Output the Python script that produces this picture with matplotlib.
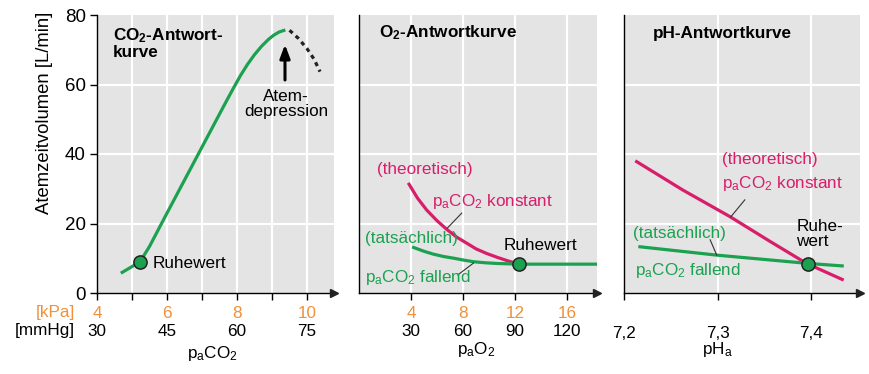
import matplotlib
matplotlib.use("Agg")
import matplotlib.pyplot as plt

plt.rcParams['font.family'] = ['Liberation Sans', 'DejaVu Sans']
plt.rcParams['mathtext.fontset'] = 'custom'
plt.rcParams['mathtext.rm'] = 'Liberation Sans'
plt.rcParams['mathtext.it'] = 'Liberation Sans:italic'
plt.rcParams['mathtext.bf'] = 'Liberation Sans:bold'

# colours
green = '#1ba14f'
magenta = '#d81e6b'
orange = '#f0913a'
grey_bg = '#e4e4e4'

# --- data ---
# CO2 response (x in kPa, y in L/min)
co2_x = [4.68, 4.95, 5.23, 5.5, 6.0, 6.5, 7.0, 7.5, 7.7, 7.9, 8.1, 8.3, 8.5, 8.7, 8.9, 9.05, 9.2, 9.38]
co2_y = [5.7, 7.3, 9.0, 13.4, 23.0, 32.5, 42.0, 51.5, 55.3, 59.0, 62.6, 65.8, 68.6, 71.0, 73.0, 74.2, 75.1, 75.7]
co2_dep_x = [9.5, 9.75, 10.0, 10.2, 10.37]
co2_dep_y = [75.6, 73.3, 70.3, 67.3, 63.7]
co2_rest = (5.23, 9.0)
co2_kpa_ticks = [4, 6, 8, 10]
co2_mmhg_ticks = [30, 45, 60, 75]

# O2 response
o2_theo_x = [3.85, 4.5, 5.2, 6.0, 6.75, 7.5, 8.3, 9.0, 9.8, 10.6, 11.4, 12.3]
o2_theo_y = [31.3, 27.3, 23.9, 20.8, 18.3, 16.1, 14.3, 12.7, 11.4, 10.3, 9.3, 8.3]
o2_act_x = [4.2, 5.0, 5.7, 6.5, 7.3, 8.0, 8.8, 9.7, 10.6, 12.3, 18.3]
o2_act_y = [13.1, 12.0, 11.2, 10.5, 10.0, 9.5, 9.0, 8.7, 8.5, 8.3, 8.3]
o2_rest = (12.3, 8.3)
o2_kpa_ticks = [4, 8, 12, 16]
o2_mmhg_ticks = [30, 60, 90, 120]

# pH response
ph_theo_x = [7.2135, 7.263, 7.313, 7.355, 7.395, 7.433]
ph_theo_y = [37.8, 29.6, 22.0, 15.0, 8.5, 3.9]
ph_act_x = [7.217, 7.299, 7.397, 7.433]
ph_act_y = [13.3, 10.9, 8.5, 7.8]
ph_rest = (7.397, 8.4)
ph_ticks = [7.2, 7.3, 7.4]
ph_labels = ['7,2', '7,3', '7,4']

fig = plt.figure(figsize=(8.7, 3.74), dpi=100)
H = 278 / 374
B = 1 - 293 / 374
ax1 = fig.add_axes([97 / 870, B, 237 / 870, H])
ax2 = fig.add_axes([359 / 870, B, 238 / 870, H])
ax3 = fig.add_axes([624 / 870, B, 236 / 870, H])

fs = 12.3
fsb = 12.3


def base(ax, xlim, vgrid, xticks):
    ax.set_facecolor(grey_bg)
    ax.set_xlim(*xlim)
    ax.set_ylim(0, 80)
    for s in ['top', 'right']:
        ax.spines[s].set_visible(False)
    for s in ['left', 'bottom']:
        ax.spines[s].set_linewidth(1.0)
    for v in vgrid:
        ax.axvline(v, color='white', lw=1.6, zorder=0.5)
    for h in [20, 40, 60]:
        ax.axhline(h, color='white', lw=1.6, zorder=0.5)
    ax.set_xticks(xticks)
    ax.set_xticklabels([])
    ax.tick_params(axis='x', direction='out', length=5, width=1)
    ax.plot([1.0], [0], marker='>', color='#222222', markersize=6,
            transform=ax.transAxes, clip_on=False, zorder=5)


base(ax1, (4, 10.77), [5, 6, 7, 8, 9, 10], [4, 5, 6, 7, 8, 9, 10])
base(ax2, (0, 18.3), [4, 8, 12, 16], o2_kpa_ticks)
base(ax3, (7.2, 7.452), [7.3, 7.4], ph_ticks)

ax1.set_yticks([0, 20, 40, 60, 80])
ax1.tick_params(axis='y', direction='out', length=5, width=1, labelsize=13.5, pad=3)
for ax in (ax2, ax3):
    ax.set_yticks([])

# two-row tick labels
xt1 = ax1.get_xaxis_transform()
for k, m in zip(co2_kpa_ticks, co2_mmhg_ticks):
    ax1.text(k, -0.072, str(k), color=orange, fontsize=fs, ha='center', va='center', transform=xt1)
    ax1.text(k, -0.137, str(m), color='black', fontsize=fs, ha='center', va='center', transform=xt1)
ax1.text(7.3, -0.216, 'p$_\\mathrm{a}$CO$_2$', fontsize=fs, ha='center', va='center', transform=xt1)
fig.text(75 / 870, 1 - 313 / 374, '[kPa]', color=orange, fontsize=fs, ha='right', va='center')
fig.text(75 / 870, 1 - 331 / 374, '[mmHg]', color='black', fontsize=fs, ha='right', va='center')

xt2 = ax2.get_xaxis_transform()
for k, m in zip(o2_kpa_ticks, o2_mmhg_ticks):
    ax2.text(k, -0.072, str(k), color=orange, fontsize=fs, ha='center', va='center', transform=xt2)
    ax2.text(k, -0.137, str(m), color='black', fontsize=fs, ha='center', va='center', transform=xt2)
ax2.text(9.0, -0.203, 'p$_\\mathrm{a}$O$_2$', fontsize=fs, ha='center', va='center', transform=xt2)

xt3 = ax3.get_xaxis_transform()
for t, l in zip(ph_ticks, ph_labels):
    ax3.text(t, -0.144, l, fontsize=fs, ha='center', va='center', transform=xt3)
ax3.text(7.3, -0.205, 'pH$_\\mathrm{a}$', fontsize=fs, ha='center', va='center', transform=xt3)

fig.text(45 / 870, 1 - 113 / 374, 'Atemzeitvolumen [L/min]', rotation=90,
         fontsize=13.3, ha='center', va='center')

lw = 2.3
ms = 9.5

# panel 1
ax1.plot(co2_x, co2_y, color=green, lw=lw, solid_capstyle='butt', solid_joinstyle='round', zorder=3)
ax1.plot(co2_dep_x, co2_dep_y, color='#222222', lw=lw, ls=(0, (1.3, 1.3)), zorder=3)
ax1.plot(*co2_rest, 'o', color=green, mec='#222222', mew=1.1, ms=ms, zorder=4)
ax1.text(5.6, 8.6, 'Ruhewert', fontsize=fs, va='center', ha='left')
ax1.text(4.46, 72.0, 'CO$_\\mathbf{2}$-Antwort-\nkurve', fontsize=fsb, fontweight='bold',
         va='center', ha='left', linespacing=1.0)
ax1.annotate('', xy=(9.37, 72.3), xytext=(9.37, 60.5),
             arrowprops=dict(arrowstyle='-|>,head_length=0.8,head_width=0.3', color='black', lw=2.2))
ax1.text(9.4, 54.5, 'Atem-\ndepression', fontsize=fs, ha='center', va='center', linespacing=1.0)

# panel 2
ax2.plot(o2_theo_x, o2_theo_y, color=magenta, lw=lw, solid_joinstyle='round', zorder=3)
ax2.plot(o2_act_x, o2_act_y, color=green, lw=lw, solid_joinstyle='round', zorder=3)
ax2.plot(*o2_rest, 'o', color=green, mec='#222222', mew=1.1, ms=ms, zorder=4)
ax2.plot([6.8, 7.9], [18.7, 23.0], color='#333333', lw=0.8, zorder=3)
ax2.plot([7.6, 8.8], [5.2, 8.6], color='#333333', lw=0.8, zorder=3)
ax2.text(1.4, 35.4, '(theoretisch)', color=magenta, fontsize=fs, va='center', ha='left')
ax2.text(5.6, 26.2, 'p$_\\mathrm{a}$CO$_2$ konstant', color=magenta, fontsize=fs, va='center', ha='left')
ax2.text(0.45, 15.8, '(tatsächlich)', color=green, fontsize=fs, va='center', ha='left')
ax2.text(0.45, 4.6, 'p$_\\mathrm{a}$CO$_2$ fallend', color=green, fontsize=fs, va='center', ha='left')
ax2.text(11.1, 13.8, 'Ruhewert', fontsize=fs, va='center', ha='left')
ax2.text(1.5, 74.8, 'O$_\\mathbf{2}$-Antwortkurve', fontsize=fsb, fontweight='bold', va='center', ha='left')

# panel 3
ax3.plot(ph_theo_x, ph_theo_y, color=magenta, lw=lw, solid_joinstyle='round', zorder=3)
ax3.plot(ph_act_x, ph_act_y, color=green, lw=lw, solid_joinstyle='round', zorder=3)
ax3.plot(*ph_rest, 'o', color=green, mec='#222222', mew=1.1, ms=ms, zorder=4)
ax3.plot([7.314, 7.329], [21.9, 26.8], color='#333333', lw=0.8, zorder=3)
ax3.plot([7.292, 7.299], [15.3, 10.9], color='#333333', lw=0.8, zorder=3)
ax3.text(7.305, 38.3, '(theoretisch)', color=magenta, fontsize=fs, va='center', ha='left')
ax3.text(7.305, 31.6, 'p$_\\mathrm{a}$CO$_2$ konstant', color=magenta, fontsize=fs, va='center', ha='left')
ax3.text(7.384, 17.0, 'Ruhe-\nwert', fontsize=fs, va='center', ha='left', linespacing=1.0)
ax3.text(7.21, 17.2, '(tatsächlich)', color=green, fontsize=fs, va='center', ha='left')
ax3.text(7.212, 6.6, 'p$_\\mathrm{a}$CO$_2$ fallend', color=green, fontsize=fs, va='center', ha='left')
ax3.text(7.231, 74.8, 'pH-Antwortkurve', fontsize=fsb, fontweight='bold', va='center', ha='left')

fig.savefig('out.png', dpi=100)
